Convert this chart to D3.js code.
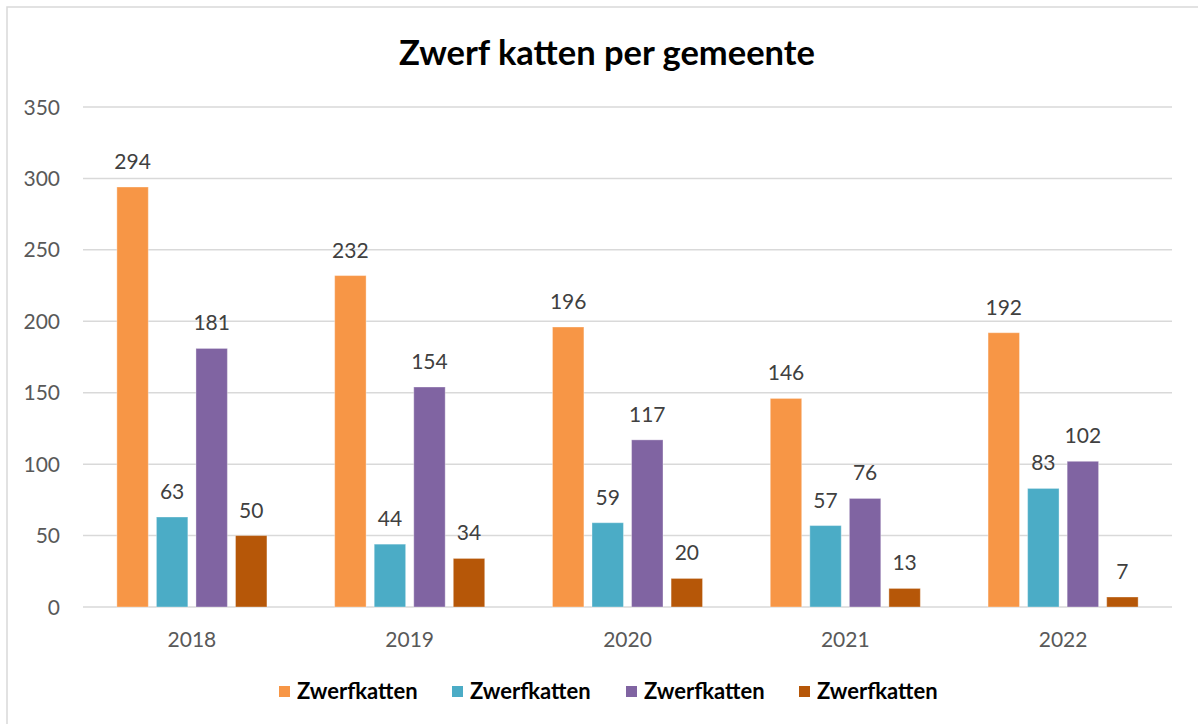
<!DOCTYPE html>
<html><head><meta charset="utf-8">
<script src="https://cdn.jsdelivr.net/npm/d3@7"></script>
<style>body{margin:0;background:#fff}svg{display:block}</style>
</head><body>
<svg id="c" width="1198" height="724"></svg>
<script>
const years = ["2018","2019","2020","2021","2022"];
const seriesNames = ["Zwerfkatten","Zwerfkatten","Zwerfkatten","Zwerfkatten"];
const s1 = [294,232,196,146,192];
const s2 = [63,44,59,57,83];
const s3 = [181,154,117,76,102];
const s4 = [50,34,20,13,7];
const yTicks = [0,50,100,150,200,250,300,350];
const colors = ["#F79646","#4BACC6","#8064A2","#B65708"];
const title = "Zwerf katten per gemeente";

(function(){
const series = [s1,s2,s3,s4];
const svg = d3.select("#c");
const font = "Lato, 'Open Sans', sans-serif";

svg.append("rect").attr("x",7).attr("y",7).attr("width",1200).attr("height",730)
  .attr("fill","none").attr("stroke","#d9d9d9").attr("stroke-width",1.5);

const pl=83,pr=1172,pt=107,pb=607;
const y = d3.scaleLinear().domain([0,350]).range([pb,pt]);
const x0 = d3.scaleBand().domain(years).range([pl,pr]).paddingInner(0.311).paddingOuter(0.1555);
const x1 = d3.scaleBand().domain(d3.range(4)).range([0,x0.bandwidth()]).paddingInner(0.205).paddingOuter(0);

svg.append("g").selectAll("line").data(yTicks).join("line")
  .attr("x1",pl).attr("x2",pr).attr("y1",d=>y(d)).attr("y2",d=>y(d))
  .attr("stroke","#d9d9d9").attr("stroke-width",1.5);

svg.append("g").selectAll("text").data(yTicks).join("text")
  .attr("x",60).attr("y",d=>y(d)).attr("dy","0.36em").attr("text-anchor","end")
  .attr("font-family",font).attr("font-size",21).attr("fill","#595959").text(d=>d);

const g = svg.append("g");
years.forEach((yr,i)=>{
  series.forEach((s,j)=>{
    g.append("rect").attr("x",x0(yr)+x1(j)).attr("y",y(s[i]))
      .attr("width",x1.bandwidth()).attr("height",y(0)-y(s[i]))
      .attr("fill",colors[j]).attr("stroke","rgba(255,255,255,0.35)").attr("stroke-width",1);
    g.append("text").attr("x",x0(yr)+x1(j)+x1.bandwidth()/2).attr("y",y(s[i])-18)
      .attr("text-anchor","middle").attr("font-family",font).attr("font-size",21)
      .attr("fill","#404040").text(s[i]);
  });
  svg.append("text").attr("x",x0(yr)+x0.bandwidth()/2).attr("y",647)
    .attr("text-anchor","middle").attr("font-family",font).attr("font-size",21)
    .attr("fill","#595959").text(yr);
});

svg.append("text").attr("x",607).attr("y",65).attr("text-anchor","middle")
  .attr("font-family",font).attr("font-weight","bold").attr("font-size",34.5)
  .attr("fill","#000").text(title);

const legX = [279,452,626,799];
seriesNames.forEach((n,j)=>{
  svg.append("rect").attr("x",legX[j]).attr("y",686).attr("width",11).attr("height",11).attr("fill",colors[j]);
  svg.append("text").attr("x",legX[j]+18).attr("y",699).attr("font-family",font)
    .attr("font-weight","bold").attr("font-size",22).attr("fill","#000").text(n);
});
})();
</script>
</body></html>
